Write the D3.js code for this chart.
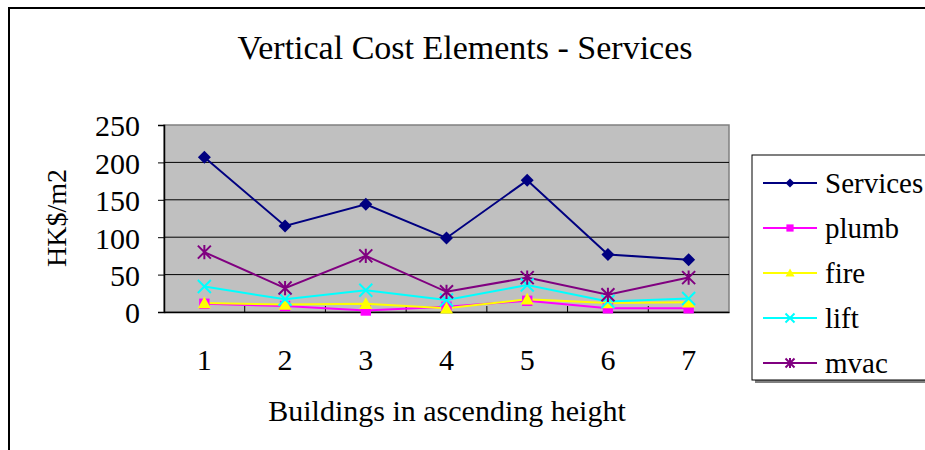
<!DOCTYPE html>
<html><head><meta charset="utf-8">
<script src="https://cdn.jsdelivr.net/npm/d3@7"></script>
<style>body{margin:0;background:#fff;} svg{display:block;} text{font-family:"Liberation Serif","DejaVu Serif",serif;fill:#000;}</style>
</head><body>
<svg id="c" width="925" height="450"></svg>
<script>
const categories = ["1","2","3","4","5","6","7"];
const seriesNames = ["Services","plumb","fire","lift","mvac"];
const services = [207,115,144,99,176,77,70];
const plumb = [11,8,2,7,15,5,5];
const fire = [12,10,11,5,17,12,13];
const lift = [34,17,29,16,36,14,18];
const mvac = [80,32,75,27,46,23,46];
const yTicks = [0,50,100,150,200,250];
const title = "Vertical Cost Elements - Services";
const xTitle = "Buildings in ascending height";
const yTitle = "HK$/m2";

const colors = {Services:"#000080", plumb:"#FF00FF", fire:"#FFFF00", lift:"#00FFFF", mvac:"#800080"};
const marks = {Services:"diamond", plumb:"square", fire:"triangle", lift:"x", mvac:"star"};
const data = {Services:services, plumb:plumb, fire:fire, lift:lift, mvac:mvac};

const svg = d3.select("#c");
const FS = 30;
// outer frame
svg.append("rect").attr("x",9).attr("y",8).attr("width",940).attr("height",460)
  .attr("fill","none").attr("stroke","#000").attr("stroke-width",2);

const L=164, R=729, T=125, B=312;
const x = d3.scaleBand().domain(categories).range([L,R]);
const y = d3.scaleLinear().domain([0,250]).range([B,T]);

svg.append("rect").attr("x",L).attr("y",T).attr("width",R-L).attr("height",B-T)
  .attr("fill","#C0C0C0").attr("stroke","#808080").attr("stroke-width",1.5);

// gridlines
svg.append("g").selectAll("line").data(yTicks.filter(d=>d>0&&d<250)).join("line")
  .attr("x1",L).attr("x2",R).attr("y1",d=>y(d)).attr("y2",d=>y(d))
  .attr("stroke","#000").attr("stroke-width",1);

// y axis
const ya = svg.append("g").attr("transform",`translate(${L},0)`)
  .call(d3.axisLeft(y).tickValues(yTicks).tickSize(6).tickPadding(18).tickFormat(d3.format("d")));
ya.attr("font-family",null);
ya.select(".domain").attr("stroke","#000").attr("stroke-width",1.5);
ya.selectAll(".tick line").attr("stroke","#000");
ya.selectAll(".tick text").attr("font-size",FS).attr("dy","0.36em");

// x axis
const xa = svg.append("g").attr("transform",`translate(0,${B})`)
  .call(d3.axisBottom(x).tickSize(0).tickPadding(37));
xa.attr("font-family",null);
xa.select(".domain").attr("stroke","#000").attr("stroke-width",1.5);
xa.selectAll(".tick text").attr("font-size",FS);
svg.append("g").selectAll("line").data(categories.slice(1)).join("line")
  .attr("x1",d=>x(d)).attr("x2",d=>x(d)).attr("y1",B).attr("y2",B-6)
  .attr("stroke","#000").attr("stroke-width",1);

function marker(g, type, color, s){
  if(type==="diamond"){
    g.append("path").attr("d",`M0,${-s}L${s},0L0,${s}L${-s},0Z`).attr("fill",color);
  } else if(type==="square"){
    const h=s*0.8; g.append("rect").attr("x",-h).attr("y",-h).attr("width",2*h).attr("height",2*h).attr("fill",color);
  } else if(type==="triangle"){
    g.append("path").attr("d",`M0,${-s}L${s},${s*0.8}L${-s},${s*0.8}Z`).attr("fill",color);
  } else if(type==="x"){
    g.append("path").attr("d",`M${-s},${-s}L${s},${s}M${s},${-s}L${-s},${s}`).attr("stroke",color).attr("stroke-width",2);
  } else if(type==="star"){
    g.append("path").attr("d",`M${-s},${-s}L${s},${s}M${s},${-s}L${-s},${s}M0,${-s*1.1}L0,${s*1.1}`).attr("stroke",color).attr("stroke-width",2);
  }
}

const line = d3.line().x((d,i)=>x(categories[i])+x.bandwidth()/2).y(d=>y(d));
const drawOrder = ["Services","plumb","fire","lift","mvac"];
drawOrder.forEach(n=>{
  svg.append("path").datum(data[n]).attr("d",line).attr("fill","none")
    .attr("stroke",colors[n]).attr("stroke-width",2);
});
drawOrder.forEach(n=>{
  data[n].forEach((v,i)=>{
    const g = svg.append("g").attr("transform",`translate(${x(categories[i])+x.bandwidth()/2},${y(v)})`);
    marker(g, marks[n], colors[n], 6.5);
  });
});

// titles
svg.append("text").attr("x",465).attr("y",59).attr("text-anchor","middle").attr("font-size",34).text(title);
svg.append("text").attr("x",447).attr("y",421).attr("text-anchor","middle").attr("font-size",FS).text(xTitle);
svg.append("text").attr("transform","translate(66,218) rotate(-90)").attr("text-anchor","middle").attr("font-size",28).text(yTitle);

// legend
svg.append("rect").attr("x",755).attr("y",158).attr("width",200).attr("height",225).attr("fill","#808080");
svg.append("rect").attr("x",752).attr("y",155).attr("width",200).attr("height",225).attr("fill","#fff").attr("stroke","#000").attr("stroke-width",1);
const lg = svg.append("g").selectAll("g").data(seriesNames).join("g")
  .attr("transform",(d,i)=>`translate(0,${183+i*45})`);
lg.append("line").attr("x1",763).attr("x2",817).attr("stroke",d=>colors[d]).attr("stroke-width",2);
lg.each(function(d){ const g=d3.select(this).append("g").attr("transform","translate(790,0)"); marker(g, marks[d], colors[d], 4.5); });
lg.append("text").attr("x",825).attr("y",0).attr("dy","0.36em").attr("font-size",29).text(d=>d);
</script>
</body></html>
